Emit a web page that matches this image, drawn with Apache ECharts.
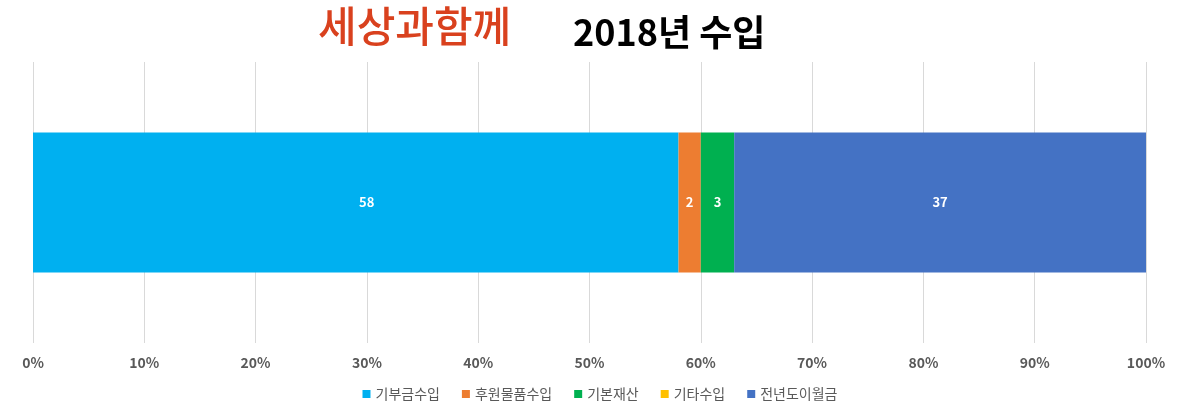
<!DOCTYPE html>
<html><head><meta charset="utf-8">
<script src="https://cdn.jsdelivr.net/npm/echarts@6/dist/echarts.min.js"></script>
<style>html,body{margin:0;padding:0;background:#fff}#c{width:1200px;height:407px}</style>
</head><body><div id="c"></div>
<script>
const categories = ['2018'];
const seriesNames = ['기부금수입', '후원물품수입', '기본재산', '기타수입', '전년도이월금'];
const seriesValues = [[58], [2], [3], [0], [37]];
const seriesColors = ['#00b0f0', '#ed7d31', '#00b050', '#ffc000', '#4472c4'];
const xTicks = [0, 10, 20, 30, 40, 50, 60, 70, 80, 90, 100];

const chart = echarts.init(document.getElementById('c'));
const FONT = '"Noto Sans CJK KR", "Noto Sans", sans-serif';
chart.setOption({
  animation: false,
  textStyle: { fontFamily: FONT },
  graphic: [
    { type: 'text', left: 318, top: 5, style: { text: '세상과함께', fill: '#d9411e', font: '500 42px ' + FONT, letterSpacing: 4 } },
    { type: 'text', left: 573, top: 14, style: { text: '2018년 수입', fill: '#000', font: 'bold 36px ' + FONT } }
  ],
  legend: {
    bottom: 1, left: 'center', itemWidth: 8, itemHeight: 8, itemGap: 22, icon: 'rect',
    data: seriesNames,
    textStyle: { fontSize: 14, color: '#595959', fontFamily: FONT }
  },
  grid: { left: 33, right: 54, top: 62, bottom: 64, containLabel: false },
  xAxis: {
    type: 'value', min: 0, max: 100, interval: 10,
    axisLine: { show: false }, axisTick: { show: false },
    splitLine: { lineStyle: { color: '#d9d9d9', width: 1 } },
    axisLabel: { formatter: v => xTicks.includes(v) ? v + '%' : '', color: '#595959', fontSize: 14, fontWeight: 'bold', margin: 13, fontFamily: FONT }
  },
  yAxis: { type: 'category', data: categories, show: false },
  series: seriesNames.map((n, i) => ({
    name: n, type: 'bar', stack: 'total', barWidth: 140,
    itemStyle: { color: seriesColors[i] },
    label: { show: true, position: 'inside', color: '#fff', fontWeight: 'bold', fontSize: 13, fontFamily: FONT,
      offset: i === 0 ? [11, 0] : [0, 0],
      formatter: p => p.value ? String(p.value) : '' },
    data: seriesValues[i]
  }))
});
</script></body></html>
